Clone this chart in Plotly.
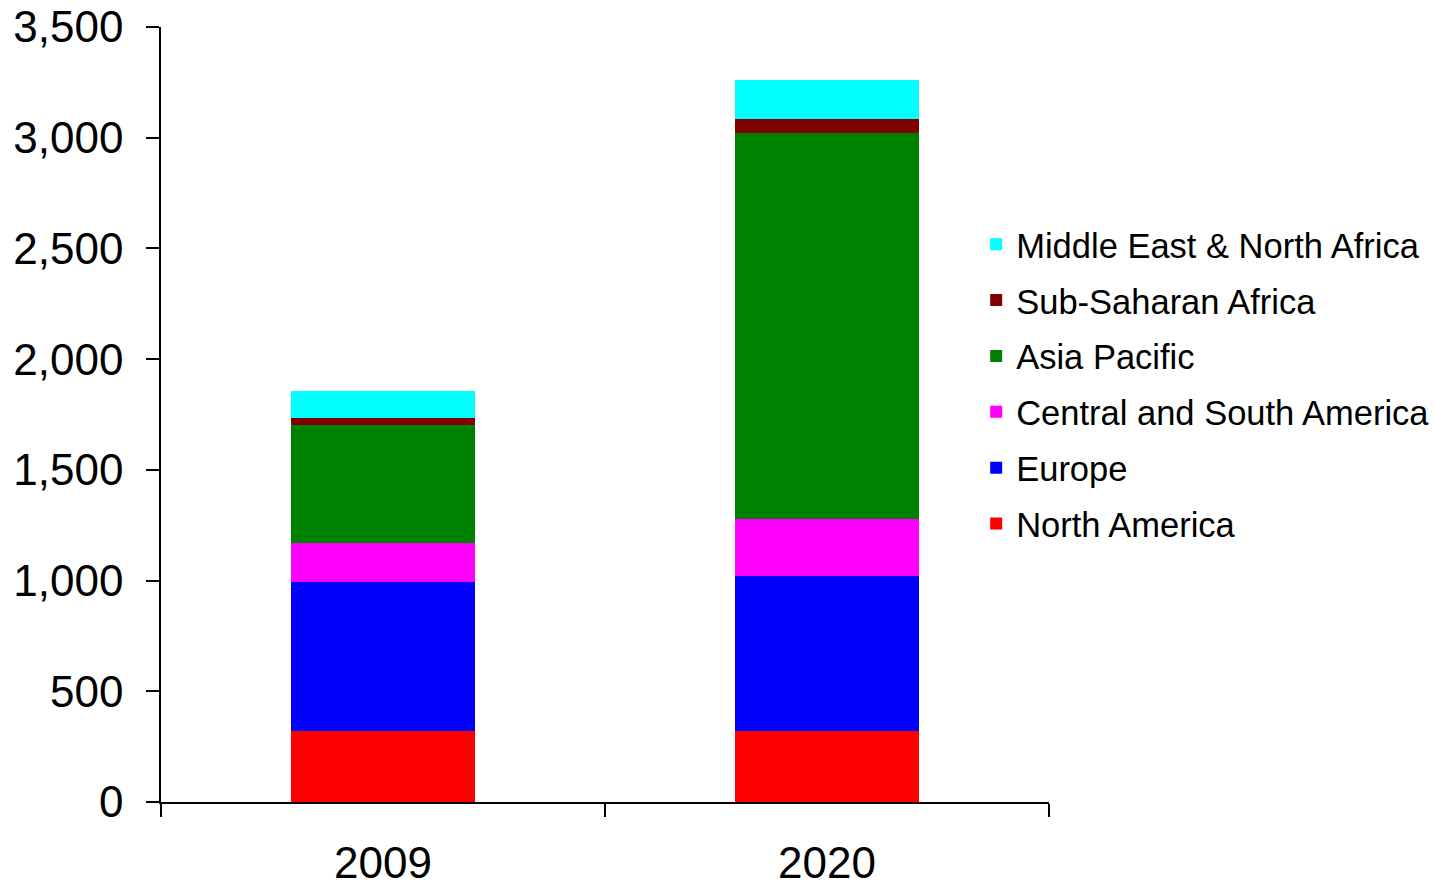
import plotly.graph_objects as go

years = ["2009", "2020"]
regions = ["North America", "Europe", "Central and South America",
           "Asia Pacific", "Sub-Saharan Africa", "Middle East & North Africa"]
values = {
    "North America": [320, 320],
    "Europe": [675, 701],
    "Central and South America": [175, 257],
    "Asia Pacific": [533, 1742],
    "Sub-Saharan Africa": [31, 63],
    "Middle East & North Africa": [122, 178],
}
colors = {
    "North America": "#FF0000",
    "Europe": "#0000FF",
    "Central and South America": "#FF00FF",
    "Asia Pacific": "#008000",
    "Sub-Saharan Africa": "#800000",
    "Middle East & North Africa": "#00FFFF",
}

fig = go.Figure()
n = len(regions)
for i, r in enumerate(regions):
    fig.add_trace(go.Bar(
        x=years, y=values[r], name=r, legendgroup=r, legendrank=n - i,
        marker=dict(color=colors[r], line=dict(width=0)),
    ))

font = "Liberation Sans, Arial, sans-serif"
fig.update_layout(
    barmode="stack",
    bargap=0.585,
    width=1435, height=889,
    margin=dict(l=161, r=386, t=27, b=87, autoexpand=False),
    plot_bgcolor="white", paper_bgcolor="white",
    font=dict(family=font, color="black"),
    showlegend=True,
    legend=dict(
        x=0.918, y=0.757, xanchor="left", yanchor="top",
        traceorder="grouped", tracegroupgap=8,
        font=dict(size=34.5, family=font, color="black"),
        bgcolor="rgba(0,0,0,0)",
    ),
    xaxis=dict(
        automargin=False,
        showline=True, linecolor="black", linewidth=1.5,
        ticks="outside", tickson="boundaries", ticklen=13, tickwidth=1.5,
        tickcolor="black", tickfont=dict(size=44, family=font),
        ticklabelstandoff=21,
        showgrid=False,
    ),
    yaxis=dict(
        automargin=False,
        range=[0, 3500], dtick=500, tickformat=",",
        showline=True, linecolor="black", linewidth=1.5,
        ticks="outside", ticklen=13, tickwidth=1.5, tickcolor="black",
        tickfont=dict(size=44, family=font), ticklabelstandoff=14,
        showgrid=False, zeroline=False,
    ),
)

fig.write_html("out.html")
